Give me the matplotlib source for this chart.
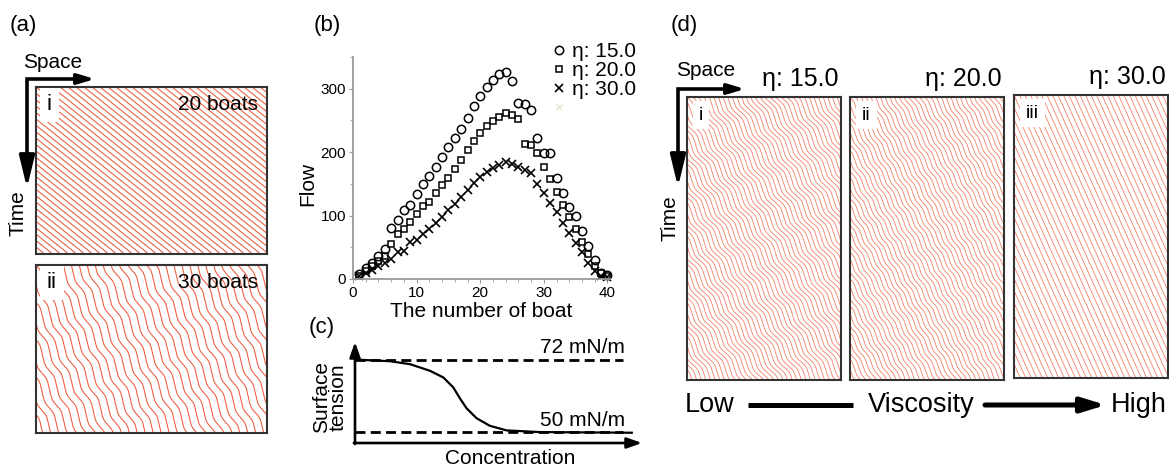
import numpy as np
import matplotlib.pyplot as plt
from matplotlib.ticker import MultipleLocator

plt.rcParams['font.family'] = ['Liberation Sans', 'DejaVu Sans']

# ---- (b) flow vs number of boats ----
boats = np.arange(1, 41)
flow_eta15 = [8, 17, 25, 36, 47, 80, 93, 108, 116, 134, 150, 163, 177, 193, 208, 222, 236, 254, 272, 288,
              302, 313, 323, 327, 312, 277, 276, 267, 223, 198, 198, 160, 135, 114, 100, 76, 52, 30, 10, 6]
flow_eta20 = [5, 13, 20, 28, 37, 55, 71, 79, 90, 102, 115, 121, 136, 148, 160, 173, 187, 203, 217, 230,
              242, 249, 256, 261, 259, 253, 213, 211, 198, 176, 157, 137, 116, 98, 79, 58, 40, 21, 9, 5]
flow_eta30 = [4, 9, 14, 20, 26, 31, 42, 44, 58, 62, 71, 79, 89, 97, 108, 118, 130, 141, 152, 161,
              169, 175, 180, 184, 181, 176, 172, 167, 150, 135, 120, 105, 88, 72, 57, 42, 25, 13, 5, 3]
eta_labels = ['η: 15.0', 'η: 20.0', 'η: 30.0']

# ---- (c) schematic surface tension vs concentration ----
conc = [0, 0.126, 0.199, 0.271, 0.319, 0.355, 0.379, 0.403, 0.439, 0.487, 0.548, 0.668, 1.0]
tension = [72.0, 71.5, 70.6, 68.6, 66.6, 63.6, 60.3, 57.3, 54.3, 52.0, 50.6, 50.1, 49.9]
tension_levels = [72, 50]
tension_labels = ['72 mN/m', '50 mN/m']

# ---- (a) and (d) space-time diagrams ----
a_tags = ['i', 'ii']
a_notes = ['20 boats', '30 boats']
a_speed = [1.25, 0.45]
a_wobble = [0.0, 0.33]
a_wobble2 = [0.0, 0.14]
a_period = [1, 32]
a_spacing = [8, 8.5]

d_tags = ['i', 'ii', 'iii']
d_eta = ['η: 15.0', 'η: 20.0', 'η: 30.0']
d_speed = [0.6, 0.55, 0.45]
d_wobble = [0.42, 0.3, 0.0]
d_wobble2 = [0.16, 0.1, 0.0]
d_period = [28, 22, 1]
d_spacing = [5, 5, 5.5]

RED_A = '#f0593b'
RED_D = '#f3765c'
FW, FH = 1169, 468

fig = plt.figure(figsize=(FW / 100, FH / 100), dpi=100)


def px_axes(x0, y0, x1, y1):
    return fig.add_axes([x0 / FW, 1 - y1 / FH, (x1 - x0) / FW, (y1 - y0) / FH])


def draw_spacetime(ax, width, height, spacing, speed, wobble, wobble2, period, color, lw, band_speed=-3.0):
    t = np.linspace(0, height, 800)
    omega = 2 * np.pi / period
    dphi = spacing * omega / (speed - band_speed)
    k_min = int(-(speed + wobble + wobble2) * height / spacing) - 3
    k_max = int(width / spacing) + 3
    for k in range(k_min, k_max):
        x = k * spacing + speed * t
        if wobble > 0:
            th = omega * t + k * dphi
            x = x + wobble / omega * np.sin(th) + wobble2 / (2 * omega) * np.sin(2 * th)
        ax.plot(x, t, color=color, lw=lw, solid_capstyle='butt')
    ax.set_xlim(0, width)
    ax.set_ylim(height, 0)
    ax.set_xticks([])
    ax.set_yticks([])
    for s in ax.spines.values():
        s.set_linewidth(1.5)
        s.set_color('#333333')


# overlay in pixel coordinates for labels and arrows
ov = fig.add_axes([0, 0, 1, 1], zorder=5)
ov.set_xlim(0, FW)
ov.set_ylim(FH, 0)
ov.axis('off')
ov.patch.set_alpha(0)

# panel (a)
a_boxes = [(36, 87, 267, 254), (36, 265, 267, 433)]
for i, (x0, y0, x1, y1) in enumerate(a_boxes):
    ax = px_axes(x0, y0, x1, y1)
    draw_spacetime(ax, x1 - x0, y1 - y0, a_spacing[i], a_speed[i], a_wobble[i], a_wobble2[i],
                   a_period[i], RED_A, lw=0.75)
    ax.text(11, 18, a_tags[i], fontsize=16, ha='left', va='center', transform=ax.transData,
            bbox=dict(boxstyle='square,pad=0.3', fc='white', ec='none'))
    ax.text(x1 - x0 - 9, 17, a_notes[i], fontsize=15, ha='right', va='center', transform=ax.transData)

# panel (d)
d_boxes = [(687, 97, 841, 380), (850, 97, 1004, 380), (1014, 95, 1168, 378)]
for i, (x0, y0, x1, y1) in enumerate(d_boxes):
    ax = px_axes(x0, y0, x1, y1)
    draw_spacetime(ax, x1 - x0, y1 - y0, d_spacing[i], d_speed[i], d_wobble[i], d_wobble2[i],
                   d_period[i], RED_D, lw=0.55)
    ax.text(12, 18, d_tags[i], fontsize=14, ha='left', va='center', transform=ax.transData,
            bbox=dict(boxstyle='square,pad=0.3', fc='white', ec='none'))
    ov.text(x1 - 2, y0 - 18, d_eta[i], fontsize=18, ha='right', va='center')

# panel (b)
ax_b = px_axes(353, 57, 610, 279)
ax_b.plot(boats, flow_eta15, 'o', ms=6, mfc='none', mec='black', mew=1.1, clip_on=False, label=eta_labels[0])
ax_b.plot(boats, flow_eta20, 's', ms=5, mfc='none', mec='black', mew=1.1, clip_on=False, label=eta_labels[1])
ax_b.plot(boats, flow_eta30, 'x', ms=5.5, color='black', mew=1.2, clip_on=False, label=eta_labels[2])
ax_b.set_xlim(0, 40.4)
ax_b.set_ylim(0, 350)
ax_b.xaxis.set_major_locator(MultipleLocator(10))
ax_b.xaxis.set_minor_locator(MultipleLocator(2))
ax_b.yaxis.set_major_locator(MultipleLocator(100))
ax_b.yaxis.set_minor_locator(MultipleLocator(50))
for side in ['top', 'right']:
    ax_b.spines[side].set_visible(False)
for side in ['left', 'bottom']:
    ax_b.spines[side].set_color('#9a9a9a')
    ax_b.spines[side].set_linewidth(1.3)
ax_b.tick_params(which='both', direction='out', color='#9a9a9a', labelsize=11, pad=2)
ax_b.tick_params(which='major', length=3)
ax_b.tick_params(which='minor', length=2.5)
ax_b.set_xlabel('The number of boat', fontsize=15)
ax_b.xaxis.set_label_coords(0.5, -0.105)
ax_b.set_ylabel('Flow', fontsize=15)
ax_b.yaxis.set_label_coords(-0.14, 0.43)
handles, labels = ax_b.get_legend_handles_labels()
faint, = ax_b.plot([], [], 'x', ms=5, color='#e6e6d2', mew=1)
ax_b.legend(handles + [faint], labels + [''], loc='upper left', bbox_to_anchor=(553 / FW, 1 - 42 / FH),
            bbox_transform=fig.transFigure, frameon=False, fontsize=15, handlelength=0.55,
            handletextpad=0.35, labelspacing=0.0, borderpad=0, borderaxespad=0)

# panel (c)
ax_c = px_axes(355, 342, 642, 443)
ax_c.set_xlim(0, 1.037)
ax_c.set_ylim(46.8, 77.3)
ax_c.plot(conc, tension, color='black', lw=1.6)
for lev in tension_levels:
    ax_c.plot([0, 0.968], [lev, lev], color='black', lw=2, linestyle=(0, (3.6, 1.9)))
ax_c.text(0.975, tension_levels[0] + 3.6, tension_labels[0], fontsize=15, ha='right', va='center')
ax_c.text(0.975, tension_levels[1] + 3.6, tension_labels[1], fontsize=15, ha='right', va='center')
ax_c.axis('off')
c_arrow = dict(arrowstyle='-|>,head_length=0.45,head_width=0.16', lw=1.9, color='black',
               mutation_scale=20, shrinkA=0, shrinkB=0)
ax_c.annotate('', xy=(1, 0), xytext=(-0.004, 0), xycoords='axes fraction', arrowprops=c_arrow)
ax_c.annotate('', xy=(0, 1), xytext=(0, -0.01), xycoords='axes fraction', arrowprops=c_arrow)
ov.text(330, 397, 'Surface\ntension', fontsize=15, rotation=90, ha='center', va='center', linespacing=0.85)
ov.text(510, 459, 'Concentration', fontsize=15, ha='center', va='center')

# panel letters
for lbl, (x, y) in zip(['(a)', '(b)', '(c)', '(d)'], [(23, 26), (327, 25), (322, 327), (684, 25)]):
    ov.text(x, y, lbl, fontsize=16, ha='center', va='center')

# space / time arrows
h_head = dict(arrowstyle='-|>,head_length=0.5,head_width=0.15', lw=2.6, color='black',
              mutation_scale=20, shrinkA=0, shrinkB=0)
v_head = dict(arrowstyle='-|>,head_length=0.95,head_width=0.23', lw=2.6, color='black',
              mutation_scale=20, shrinkA=0, shrinkB=0)
for (cx, cy, hx, vy) in [(27, 79, 95, 188), (678, 89, 745, 187)]:
    ov.plot([hx - 12, cx, cx], [cy, cy, vy - 20], color='black', lw=2.6,
            solid_joinstyle='miter', solid_capstyle='butt')
    ov.annotate('', xy=(hx, cy), xytext=(hx - 16, cy), arrowprops=h_head)
    ov.annotate('', xy=(cx, vy), xytext=(cx, vy - 30), arrowprops=v_head)
ov.text(53, 62, 'Space', fontsize=15, ha='center', va='center')
ov.text(18, 213, 'Time', fontsize=15, ha='center', va='center', rotation=90)
ov.text(706, 71, 'Space', fontsize=15, ha='center', va='center')
ov.text(670, 218, 'Time', fontsize=15, ha='center', va='center', rotation=90)

# viscosity scale
ov.text(685, 405, 'Low', fontsize=19.5, ha='left', va='center')
ov.plot([748, 853], [405, 405], color='black', lw=3.6, solid_capstyle='butt')
ov.text(921, 405, 'Viscosity', fontsize=19.5, ha='center', va='center')
ov.annotate('', xy=(1106, 405), xytext=(985, 405),
            arrowprops=dict(arrowstyle='-|>,head_length=0.72,head_width=0.22', lw=3.6, color='black',
                            mutation_scale=20, shrinkA=0, shrinkB=0))
ov.text(1167, 405, 'High', fontsize=19.5, ha='right', va='center')

fig.savefig('out.png', dpi=100)
